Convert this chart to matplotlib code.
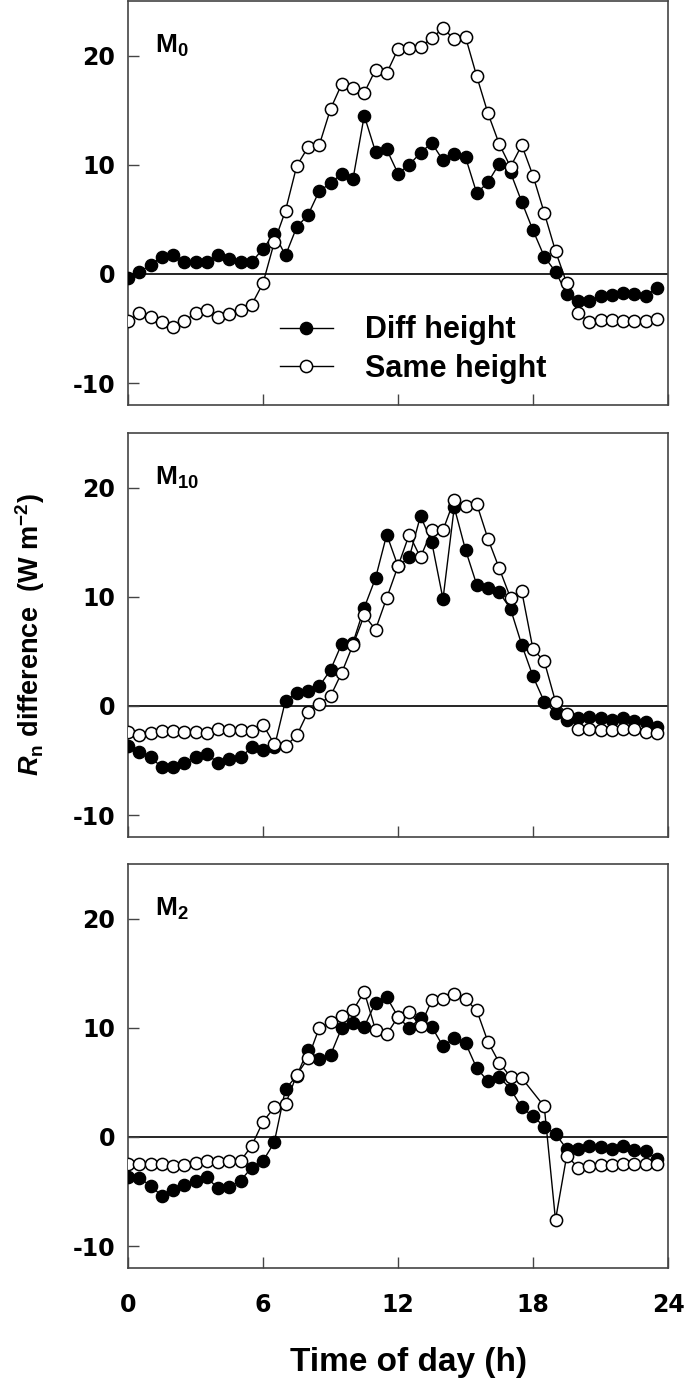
#Rn difference between the two sensor set-ups, three panels (M0, M10, M2)
#half-hourly values
import numpy as np
import matplotlib
matplotlib.use('Agg')
import matplotlib.pyplot as plt

plt.rcParams['font.family'] = ['Liberation Sans', 'DejaVu Sans']
plt.rcParams['font.weight'] = 'bold'
plt.rcParams['axes.unicode_minus'] = False
plt.rcParams['mathtext.fontset'] = 'custom'
plt.rcParams['mathtext.rm'] = 'Liberation Sans:bold'
plt.rcParams['mathtext.bf'] = 'Liberation Sans:bold'
plt.rcParams['mathtext.it'] = 'Liberation Sans:bold:italic'

hours = np.arange(0, 24, 0.5)

panel_names = ['M$_0$', 'M$_{10}$', 'M$_2$']

# M0
m0_diff = [-0.4, 0.2, 0.8, 1.6, 1.7, 1.1, 1.1, 1.1, 1.7, 1.4, 1.1, 1.1,
           2.3, 3.7, 1.7, 4.3, 5.4, 7.6, 8.3, 9.2, 8.7, 14.5, 11.2, 11.4,
           9.2, 10.0, 11.1, 12.0, 10.4, 11.0, 10.7, 7.4, 8.4, 10.1, 9.3, 6.6,
           4.0, 1.6, 0.2, -1.8, -2.5, -2.5, -2.0, -1.9, -1.7, -1.8, -2.0, -1.3]
m0_same = [-4.3, -3.6, -3.9, -4.4, -4.9, -4.3, -3.6, -3.3, -3.9, -3.7, -3.3, -2.8,
           -0.85, 2.9, 5.8, 9.9, 11.6, 11.8, 15.1, 17.4, 17.0, 16.6, 18.7, 18.4,
           20.6, 20.7, 20.8, 21.6, 22.5, 21.5, 21.7, 18.1, 14.7, 11.9, 9.8, 11.8,
           9.0, 5.6, 2.1, -0.85, -3.6, -4.4, -4.2, -4.2, -4.3, -4.3, -4.3, -4.1]

# M10
m10_diff = [-3.7, -4.2, -4.7, -5.6, -5.6, -5.2, -4.7, -4.4, -5.2, -4.9, -4.7, -3.8,
            -4.0, -3.8, 0.5, 1.2, 1.4, 1.8, 3.3, 5.7, 5.8, 9.0, 11.7, 15.7,
            12.8, 13.6, 17.4, 15.0, 9.8, 18.2, 14.3, 11.1, 10.8, 10.4, 8.9, 5.6,
            2.7, 0.4, -0.6, -1.3, -1.1, -1.0, -1.1, -1.3, -1.1, -1.4, -1.5, -1.9]
m10_same = [-2.4, -2.65, -2.5, -2.3, -2.3, -2.4, -2.35, -2.5, -2.1, -2.2, -2.2, -2.3,
            -1.7, -3.5, -3.7, -2.7, -0.55, 0.2, 0.9, 3.05, 5.6, 8.3, 7.0, 9.9,
            12.8, 15.7, 13.6, 16.1, 16.1, 18.9, 18.3, 18.5, 15.3, 12.6, 9.9, 10.5,
            5.2, 4.1, 0.4, -0.7, -2.1, -2.1, -2.2, -2.2, -2.1, -2.1, -2.4, -2.5]

# M2 (no same-height value at 18:00)
m2_diff = [-3.7, -3.75, -4.45, -5.4, -4.9, -4.4, -4.0, -3.7, -4.7, -4.6, -4.0, -2.8,
           -2.2, -0.5, 4.4, 5.6, 8.0, 7.1, 7.5, 10.0, 10.4, 10.1, 12.3, 12.8,
           11.0, 9.95, 10.9, 10.1, 8.3, 9.05, 8.6, 6.3, 5.1, 5.5, 4.4, 2.7,
           1.9, 0.95, 0.27, -1.1, -1.1, -0.8, -0.9, -1.1, -0.85, -1.15, -1.3, -2.0]
m2_same = [-2.45, -2.45, -2.45, -2.5, -2.7, -2.6, -2.4, -2.2, -2.3, -2.2, -2.2, -0.8,
           1.4, 2.7, 3.0, 5.7, 7.2, 10.0, 10.5, 11.1, 11.6, 13.3, 9.8, 9.4,
           11.0, 11.4, 10.2, 12.5, 12.6, 13.1, 12.6, 11.6, 8.7, 6.8, 5.5, 5.4,
           np.nan, 2.8, -7.6, -1.7, -2.8, -2.7, -2.6, -2.6, -2.5, -2.5, -2.5, -2.5]

diff_sets = [m0_diff, m10_diff, m2_diff]
same_sets = [m0_same, m10_same, m2_same]

xticks = [0, 6, 12, 18, 24]
yticks = [-10, 0, 10, 20]

fig = plt.figure(figsize=(6.85, 13.85), dpi=100)

#axes rectangles measured in pixels from the original
W, H = 685., 1385.
left, right = 128, 668
tops = [1, 433, 864]
ph = 404

axes = []
for k in range(3):
    top = tops[k]
    ax = fig.add_axes([left / W, 1 - (top + ph) / H, (right - left) / W, ph / H])
    axes.append(ax)

    ax.axhline(0, color='k', lw=1.2, zorder=1)

    d = np.array(diff_sets[k], dtype=float)
    s = np.array(same_sets[k], dtype=float)
    ok = ~np.isnan(s)
    ax.plot(hours, d, '-o', color='k', lw=1.0, ms=8.8, mfc='k', mec='k',
            mew=1.0, zorder=3, label='Diff height')
    ax.plot(hours[ok], s[ok], '-o', color='k', lw=1.0, ms=8.8, mfc='white',
            mec='k', mew=1.1, zorder=4, label='Same height')

    ax.set_xlim(0, 24)
    ax.set_ylim(-12, 25)
    ax.set_xticks(xticks)
    ax.set_yticks(yticks)
    ax.tick_params(direction='in', length=8, width=1, color='#444444',
                   top=False, right=False)
    ax.tick_params(axis='y', pad=9)
    ax.tick_params(axis='x', pad=18)
    #tick numbers are in a wider bold face than the rest
    for lab in ax.get_xticklabels() + ax.get_yticklabels():
        lab.set_fontfamily('DejaVu Sans')
        lab.set_fontsize(17)
        lab.set_fontweight('bold')
    if k < 2:
        ax.tick_params(axis='x', labelbottom=False)
    for sp in ax.spines.values():
        sp.set_color('#444444')
        sp.set_linewidth(1.2)

    ax.text(0.05, 0.871, panel_names[k], transform=ax.transAxes,
            fontsize=19, fontweight='bold', va='baseline', ha='left')

leg = axes[0].legend(loc='upper left', bbox_to_anchor=(0.281, 0.222),
                     frameon=False, fontsize=22, handlelength=1.75,
                     handletextpad=1.05, labelspacing=0.28, borderpad=0,
                     borderaxespad=0)

fig.text(0.044, 0.5415, r'$\mathit{R}_{\mathrm{n}}$ difference  (W m$^{\mathrm{-2}}$)',
         rotation=90, ha='center', va='center', fontsize=19.5, fontweight='bold')
fig.text(408 / W, 1 - 1362 / H, 'Time of day (h)', ha='center', va='center',
         fontsize=24, fontweight='bold')

fig.savefig('out.png', dpi=100)
